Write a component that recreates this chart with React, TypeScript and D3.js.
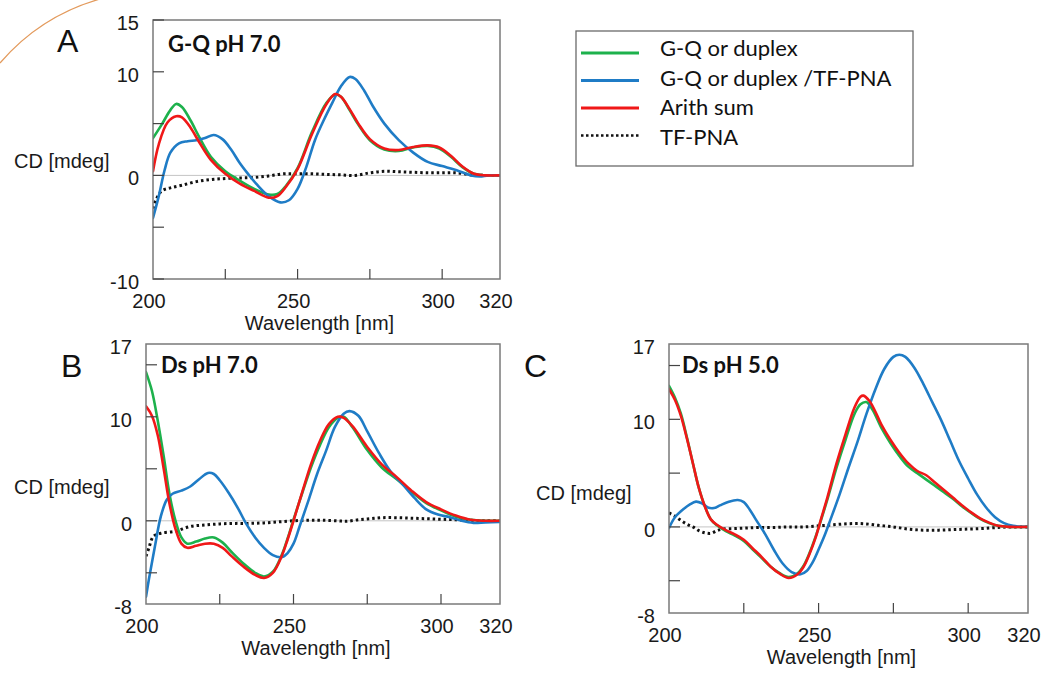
import React, { useEffect, useRef } from 'react';
import * as d3 from 'd3';

type Pt = [number, number];

const legendLabels = ['G-Q or duplex', 'G-Q or duplex /TF-PNA', 'Arith sum', 'TF-PNA'];
const seriesColors = ['#1db14c', '#1f7cc6', '#f01818', '#111111'];
const drawOrder = [3, 0, 1, 2];

const xDomain = [200, 320];
const xTicks = [225, 250, 275, 300];
const xTickLabels = [200, 250, 300, 320];

// A - G-Q pH 7.0
const gqGreen: Pt[] = [
  [200, 3.6], [203, 4.9], [206, 6.3], [208, 6.9], [210, 6.6], [213, 5.3], [216, 3.7], [220, 1.8],
  [225, 0.4], [230, -0.5], [235, -1.3], [240, -1.85], [243, -1.8], [246, -1.0], [250, 0.7], [255, 4.2],
  [260, 7.0], [263, 7.8], [265, 7.6], [268, 6.3], [271, 4.9], [275, 3.4], [280, 2.5], [285, 2.35],
  [290, 2.7], [295, 2.85], [299, 2.6], [303, 1.8], [307, 0.8], [311, 0.15], [315, 0], [320, 0],
];
const gqBlue: Pt[] = [
  [200, -4.1], [202, -2.0], [204, 0.5], [206, 2.2], [209, 3.1], [212, 3.3], [215, 3.4], [218, 3.6],
  [221, 3.9], [224, 3.5], [227, 2.5], [230, 1.2], [233, 0.1], [236, -0.9], [240, -2.0], [244, -2.6],
  [247, -2.4], [250, -1.3], [253, 0.8], [256, 3.4], [259, 5.3], [262, 7.0], [265, 8.6], [268, 9.5],
  [270, 9.3], [273, 8.2], [276, 6.7], [280, 5.0], [285, 3.4], [290, 2.2], [295, 1.3], [300, 0.9],
  [305, 0.5], [310, 0.0], [313, -0.1], [316, 0], [320, 0],
];
const gqRed: Pt[] = [
  [200, 0.4], [202, 3.0], [205, 5.1], [208, 5.7], [210, 5.6], [213, 4.6], [216, 3.2], [220, 1.5],
  [225, 0.15], [230, -0.8], [235, -1.5], [240, -2.15], [243, -2.0], [246, -1.1], [250, 0.6], [255, 4.0],
  [260, 6.9], [263, 7.85], [265, 7.6], [268, 6.4], [271, 5.0], [275, 3.5], [280, 2.6], [285, 2.45],
  [290, 2.75], [295, 2.9], [299, 2.7], [303, 1.9], [307, 0.85], [311, 0.15], [315, 0], [320, 0],
];
const gqTf: Pt[] = [
  [200, -3.2], [201, -2.4], [203, -1.5], [206, -1.2], [210, -0.95], [215, -0.6], [220, -0.4], [225, -0.3],
  [230, -0.25], [235, -0.2], [240, -0.05], [245, 0.15], [250, 0.15], [255, 0.15], [260, 0.1], [265, 0.05],
  [270, 0.0], [275, 0.25], [280, 0.4], [285, 0.35], [290, 0.3], [295, 0.25], [300, 0.25], [305, 0.25],
  [310, 0.05], [315, 0], [320, 0],
];

// B - Ds pH 7.0
const ds7Green: Pt[] = [
  [200, 14.3], [202, 12.5], [204, 9.6], [206, 6.2], [208, 2.5], [210, 0.0], [212, -1.6], [214, -2.2],
  [217, -2.0], [220, -1.7], [223, -1.6], [226, -2.1], [229, -3.0], [233, -4.1], [237, -5.0], [240, -5.35],
  [243, -4.9], [246, -3.3], [248, -1.7], [250, 0.1], [253, 2.7], [256, 5.2], [259, 7.3], [262, 9.0],
  [265, 9.9], [267, 10.0], [270, 9.0], [275, 6.8], [280, 5.1], [285, 4.0], [290, 2.8], [295, 1.7],
  [300, 1.0], [305, 0.4], [310, 0.1], [315, 0], [320, 0],
];
const ds7Blue: Pt[] = [
  [200, -7.3], [201, -5.6], [203, -2.5], [205, 0.4], [207, 2.0], [209, 2.6], [212, 2.9], [215, 3.3],
  [218, 4.0], [221, 4.6], [223, 4.5], [225, 3.9], [228, 2.7], [231, 1.3], [234, -0.3], [237, -1.6],
  [240, -2.6], [243, -3.3], [246, -3.5], [248, -3.1], [250, -2.2], [252, -0.6], [255, 1.9], [258, 4.5],
  [261, 6.7], [264, 9.0], [267, 10.3], [269, 10.55], [272, 10.1], [275, 8.6], [279, 6.5], [283, 4.7],
  [287, 3.5], [291, 2.2], [295, 1.1], [299, 0.6], [303, 0.35], [307, 0.0], [311, -0.2], [315, -0.15],
  [320, -0.1],
];
const ds7Red: Pt[] = [
  [200, 11.0], [202, 10.1], [204, 8.2], [206, 5.0], [208, 1.6], [210, -0.8], [212, -2.2], [214, -2.6],
  [217, -2.4], [220, -2.2], [223, -2.2], [226, -2.6], [229, -3.4], [233, -4.4], [237, -5.2], [240, -5.5],
  [243, -5.0], [246, -3.4], [248, -1.8], [250, 0.0], [253, 2.8], [256, 5.5], [259, 7.7], [262, 9.3],
  [265, 10.0], [267, 9.9], [270, 9.1], [275, 7.1], [280, 5.4], [285, 4.2], [290, 2.9], [295, 1.8],
  [300, 1.1], [305, 0.5], [310, 0.1], [315, 0], [320, 0],
];
const ds7Tf: Pt[] = [
  [200, -3.4], [201, -2.6], [202.5, -1.5], [205, -1.2], [210, -1.0], [215, -0.55], [220, -0.4], [225, -0.3],
  [230, -0.25], [235, -0.25], [240, -0.2], [245, -0.1], [250, 0.0], [255, 0.05], [260, 0.05], [265, 0.0],
  [268, -0.05], [272, 0.1], [276, 0.2], [280, 0.3], [285, 0.3], [290, 0.25], [295, 0.2], [300, 0.15],
  [305, 0.1], [310, 0.05], [315, 0], [320, 0],
];

// C - Ds pH 5.0
const ds5Green: Pt[] = [
  [200, 13.1], [202, 12.0], [204, 10.5], [206, 8.3], [208, 5.9], [210, 3.6], [212, 1.9], [214, 0.7],
  [216, 0.15], [219, -0.4], [222, -0.8], [225, -1.3], [228, -2.1], [231, -2.9], [234, -3.7], [237, -4.3],
  [240, -4.65], [243, -4.3], [245, -3.6], [247, -2.4], [249, -0.9], [251, 0.8], [253, 2.6], [256, 5.5],
  [259, 8.1], [262, 10.5], [264, 11.4], [266, 11.6], [268, 10.9], [271, 9.2], [274, 7.8], [277, 6.6],
  [280, 5.6], [283, 5.0], [286, 4.4], [289, 3.8], [292, 3.2], [295, 2.6], [298, 1.9], [301, 1.3],
  [304, 0.75], [307, 0.35], [310, 0.1], [314, 0], [320, 0],
];
const ds5Blue: Pt[] = [
  [200, -0.1], [202, 0.9], [205, 1.7], [207, 2.1], [209, 2.35], [211, 2.2], [213, 1.8], [215, 1.75],
  [217, 2.0], [220, 2.35], [223, 2.5], [225, 2.3], [227, 1.6], [229, 0.7], [232, -0.6], [235, -2.1],
  [238, -3.4], [241, -4.2], [244, -4.4], [246, -4.1], [248, -3.3], [250, -2.1], [252, -0.8], [254, 0.7],
  [257, 3.0], [260, 5.5], [263, 7.9], [266, 10.5], [269, 12.8], [272, 14.7], [275, 15.8], [277, 16.0],
  [279, 15.8], [282, 14.8], [285, 13.3], [288, 11.6], [291, 9.9], [294, 8.0], [297, 6.1], [300, 4.5],
  [303, 3.0], [306, 1.8], [309, 0.9], [312, 0.35], [315, 0.1], [320, 0],
];
const ds5Red: Pt[] = [
  [200, 12.8], [202, 11.8], [204, 10.3], [206, 8.2], [208, 5.9], [210, 3.6], [212, 1.9], [214, 0.7],
  [216, 0.2], [219, -0.3], [222, -0.7], [225, -1.2], [228, -2.0], [231, -2.8], [234, -3.7], [237, -4.35],
  [240, -4.75], [243, -4.4], [245, -3.7], [247, -2.5], [249, -1.0], [251, 0.9], [253, 2.8], [256, 5.9],
  [259, 8.6], [262, 11.1], [264, 12.1], [265, 12.2], [267, 11.7], [269, 10.7], [271, 9.5], [274, 8.1],
  [277, 6.9], [280, 5.9], [283, 5.2], [286, 4.8], [289, 4.1], [292, 3.4], [295, 2.7], [298, 2.0],
  [301, 1.35], [304, 0.8], [307, 0.4], [310, 0.1], [314, 0], [320, 0],
];
const ds5Tf: Pt[] = [
  [200, 1.3], [202, 1.0], [204, 0.6], [206, 0.25], [208, 0.0], [210, -0.35], [212, -0.55], [214, -0.6],
  [216, -0.35], [218, -0.2], [222, -0.15], [226, -0.1], [230, -0.05], [235, -0.05], [240, 0.0], [245, 0.0],
  [250, 0.1], [255, 0.2], [260, 0.3], [265, 0.3], [270, 0.15], [275, 0.0], [280, -0.2], [285, -0.3],
  [290, -0.3], [295, -0.25], [300, -0.2], [305, -0.15], [310, -0.05], [315, 0], [320, 0],
];

const panels = [
  {
    id: 'a', letter: 'A', title: 'G-Q pH 7.0',
    left: 153, right: 500, top: 20, bottom: 279,
    yDomain: [-10, 15], yTicks: [15, 10, 5, 0, -5, -10], yLabels: [15, 10, 0, -10],
    letterPos: [57, 52], titlePos: [168, 52], cdPos: [14, 161],
    series: [gqGreen, gqBlue, gqRed, gqTf],
  },
  {
    id: 'b', letter: 'B', title: 'Ds pH 7.0',
    left: 146, right: 500, top: 344, bottom: 604,
    yDomain: [-8, 17], yTicks: [15, 10, 5, 0, -5], yLabels: [17, 10, 0, -8],
    letterPos: [61, 377], titlePos: [161, 373], cdPos: [14, 487],
    series: [ds7Green, ds7Blue, ds7Red, ds7Tf],
  },
  {
    id: 'c', letter: 'C', title: 'Ds pH 5.0',
    left: 669, right: 1028, top: 344, bottom: 613,
    yDomain: [-8, 17], yTicks: [15, 10, 5, 0, -5], yLabels: [17, 10, 0, -8],
    letterPos: [524, 377], titlePos: [682, 373], cdPos: [536, 493],
    series: [ds5Green, ds5Blue, ds5Red, ds5Tf],
  },
];

const sans = '"Liberation Sans", Arial, sans-serif';
const calibriish = 'Lato, "Open Sans", sans-serif';

const App = () => {
  const svgRef = useRef<SVGSVGElement>(null);

  useEffect(() => {
    const svg = d3.select(svgRef.current);
    svg.selectAll('*').remove();

    // slide decoration in the corner
    svg.append('path')
      .attr('d', 'M 0 63 A 206 206 0 0 1 100 -1')
      .attr('fill', 'none')
      .attr('stroke', '#e39a5c')
      .attr('stroke-width', 1.2);

    panels.forEach(p => {
      const x = d3.scaleLinear().domain(xDomain).range([p.left, p.right]);
      const y = d3.scaleLinear().domain(p.yDomain).range([p.bottom, p.top]);
      const g = svg.append('g').attr('class', `panel-${p.id}`);

      g.append('clipPath').attr('id', `clip-${p.id}`)
        .append('rect')
        .attr('x', p.left).attr('y', p.top)
        .attr('width', p.right - p.left).attr('height', p.bottom - p.top);

      g.append('line')
        .attr('x1', p.left).attr('x2', p.right)
        .attr('y1', y(0)).attr('y2', y(0))
        .attr('stroke', '#c4c4c4').attr('stroke-width', 1);

      const lineGen = d3.line<Pt>()
        .x(d => x(d[0]))
        .y(d => y(d[1]))
        .curve(d3.curveCatmullRom.alpha(0.5));

      const plot = g.append('g').attr('clip-path', `url(#clip-${p.id})`);
      drawOrder.forEach(i => {
        const path = plot.append('path')
          .attr('d', lineGen(p.series[i]))
          .attr('fill', 'none')
          .attr('stroke', seriesColors[i])
          .attr('stroke-width', i === 3 ? 3 : 2.6)
          .attr('stroke-linejoin', 'round');
        if (i === 3) path.attr('stroke-dasharray', '2.5 3');
        else path.attr('stroke-linecap', 'round');
      });

      g.append('rect')
        .attr('x', p.left).attr('y', p.top)
        .attr('width', p.right - p.left).attr('height', p.bottom - p.top)
        .attr('fill', 'none').attr('stroke', '#7a7a7a').attr('stroke-width', 1.5);

      g.selectAll('.ytick').data(p.yTicks).join('line')
        .attr('class', 'ytick')
        .attr('x1', p.left).attr('x2', p.left + 11)
        .attr('y1', d => y(d)).attr('y2', d => y(d))
        .attr('stroke', '#444').attr('stroke-width', 1.2);

      g.selectAll('.xtick').data(xTicks).join('line')
        .attr('class', 'xtick')
        .attr('x1', d => x(d)).attr('x2', d => x(d))
        .attr('y1', p.bottom).attr('y2', p.bottom - 10)
        .attr('stroke', '#444').attr('stroke-width', 1.2);

      g.selectAll('.ylabel').data(p.yLabels).join('text')
        .attr('class', 'ylabel')
        .attr('x', p.left - 14)
        .attr('y', d => y(d) + 10)
        .attr('text-anchor', 'end')
        .attr('font-family', sans).attr('font-size', 20).attr('fill', '#1a1a1a')
        .text(d => `${d}`);

      g.selectAll('.xlabel').data(xTickLabels).join('text')
        .attr('class', 'xlabel')
        .attr('x', d => x(d) - 4)
        .attr('y', p.bottom + 29)
        .attr('text-anchor', 'middle')
        .attr('font-family', sans).attr('font-size', 20).attr('fill', '#1a1a1a')
        .text(d => `${d}`);

      g.append('text')
        .attr('x', (p.left + p.right) / 2 - 7)
        .attr('y', p.bottom + 51)
        .attr('text-anchor', 'middle')
        .attr('font-family', sans).attr('font-size', 20).attr('fill', '#1a1a1a')
        .text('Wavelength [nm]');

      g.append('text')
        .attr('x', p.cdPos[0]).attr('y', p.cdPos[1] + 7)
        .attr('font-family', sans).attr('font-size', 20).attr('fill', '#1a1a1a')
        .text('CD [mdeg]');

      g.append('text')
        .attr('x', p.letterPos[0]).attr('y', p.letterPos[1])
        .attr('font-family', sans).attr('font-size', 32).attr('fill', '#111')
        .text(p.letter);

      g.append('text')
        .attr('x', p.titlePos[0]).attr('y', p.titlePos[1])
        .attr('font-family', calibriish).attr('font-size', 22).attr('font-weight', 700).attr('fill', '#111')
        .text(p.title);
    });

    // legend
    const legend = svg.append('g').attr('class', 'legend');
    legend.append('rect')
      .attr('x', 576).attr('y', 31).attr('width', 337).attr('height', 135)
      .attr('fill', 'none').attr('stroke', '#6a6a6a').attr('stroke-width', 1.3);

    legendLabels.forEach((label, i) => {
      const ly = 53 + i * 27.5;
      legend.append('line')
        .attr('x1', 581).attr('x2', 639)
        .attr('y1', ly).attr('y2', ly)
        .attr('stroke', seriesColors[i])
        .attr('stroke-width', i === 3 ? 2.5 : 2.8)
        .attr('stroke-dasharray', i === 3 ? '2.5 2.5' : null);
      legend.append('text')
        .attr('x', 660).attr('y', 56 + i * 29.6)
        .attr('font-family', calibriish).attr('font-size', 22).attr('fill', '#111')
        .text(label);
    });
  }, []);

  return (
    <svg
      ref={svgRef}
      width={1053}
      height={674}
      style={{ position: 'absolute', left: 0, top: 0, background: '#fff' }}
    />
  );
};

export default App;
